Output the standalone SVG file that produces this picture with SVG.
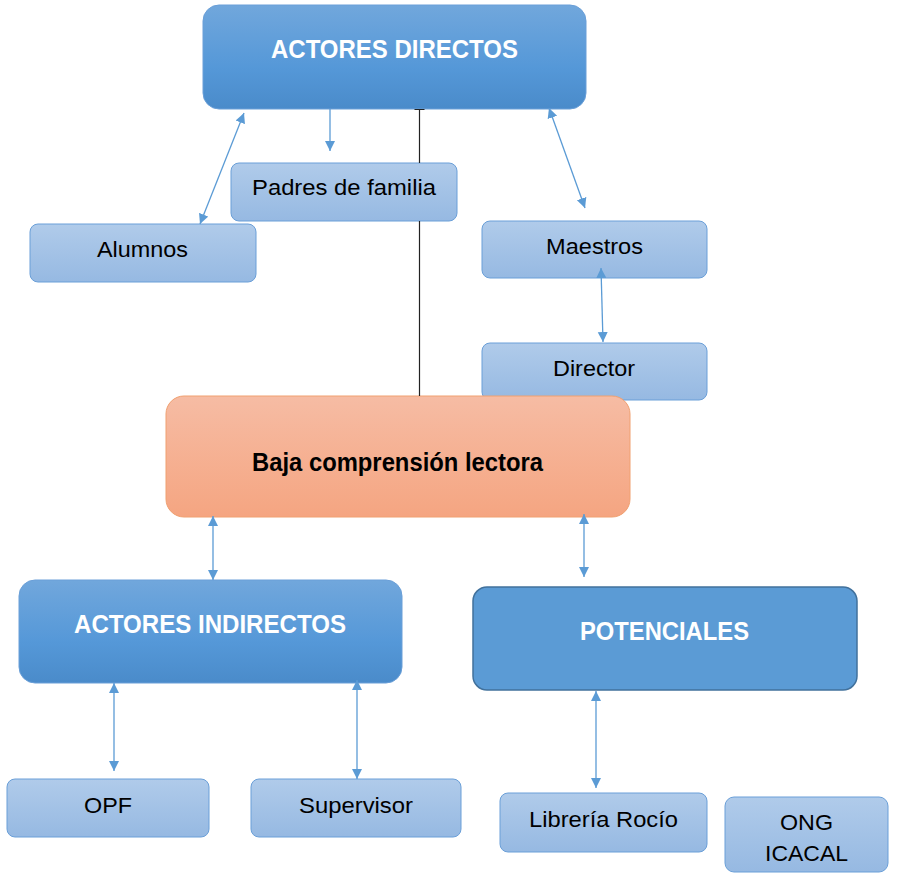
<svg xmlns="http://www.w3.org/2000/svg" width="897" height="874" viewBox="0 0 897 874">
<style>
  .t { font-family: "Liberation Sans", Arial, sans-serif; text-anchor: middle; }
  .reg { font-size: 22px; fill: #000; }
  .bold { font-size: 25px; font-weight: bold; }
  .wt { fill: #fff; }
  .light { fill: url(#gLight); stroke: #6a9fd8; stroke-width: 1; }
  .dark { fill: url(#gDark); stroke: #6a9fd8; stroke-width: 1; }
  .conn { stroke: #5b9bd5; stroke-width: 1.3; fill: none; }
</style>
<defs>
  <linearGradient id="gLight" x1="0" y1="0" x2="0" y2="1">
    <stop offset="0" stop-color="#b0cbea"/>
    <stop offset="1" stop-color="#96b9e2"/>
  </linearGradient>
  <linearGradient id="gDark" x1="0" y1="0" x2="0" y2="1">
    <stop offset="0" stop-color="#71a7dc"/>
    <stop offset="0.6" stop-color="#5598d8"/>
    <stop offset="1" stop-color="#4a8bca"/>
  </linearGradient>
  <linearGradient id="gOrange" x1="0" y1="0" x2="0" y2="1">
    <stop offset="0" stop-color="#f6bca4"/>
    <stop offset="1" stop-color="#f5a581"/>
  </linearGradient>
  <marker id="ah" viewBox="0 0 10 10" refX="10" refY="5" markerWidth="10" markerHeight="11" markerUnits="userSpaceOnUse" orient="auto-start-reverse">
    <path d="M0,0 L10,5 L0,10 z" fill="#5b9bd5"/>
  </marker>
</defs>

<g id="actores-directos">
  <rect class="dark" x="203" y="5" width="383" height="104" rx="16"/>
  <text class="t bold wt" x="394.5" y="58" textLength="247" lengthAdjust="spacingAndGlyphs">ACTORES DIRECTOS</text>
</g>
<g id="padres">
  <rect class="light" x="231" y="163" width="226" height="58" rx="8"/>
  <text class="t reg" x="344" y="195" textLength="184" lengthAdjust="spacingAndGlyphs">Padres de familia</text>
</g>
<g id="alumnos">
  <rect class="light" x="30" y="224" width="226" height="58" rx="8"/>
  <text class="t reg" x="142.5" y="257" textLength="91" lengthAdjust="spacingAndGlyphs">Alumnos</text>
</g>
<g id="maestros">
  <rect class="light" x="482" y="221" width="225" height="57" rx="8"/>
  <text class="t reg" x="594.5" y="254" textLength="97" lengthAdjust="spacingAndGlyphs">Maestros</text>
</g>
<g id="director">
  <rect class="light" x="482" y="343" width="225" height="57" rx="8"/>
  <text class="t reg" x="594" y="376" textLength="82" lengthAdjust="spacingAndGlyphs">Director</text>
</g>
<g id="baja">
  <rect x="166" y="396" width="464" height="121" rx="18" fill="url(#gOrange)" stroke="#f0a070" stroke-width="1"/>
  <text class="t bold" x="397.5" y="471" fill="#000" textLength="291" lengthAdjust="spacingAndGlyphs">Baja comprensión lectora</text>
</g>
<g id="actores-indirectos">
  <rect class="dark" x="19" y="580" width="383" height="103" rx="16"/>
  <text class="t bold wt" x="210" y="633" textLength="272" lengthAdjust="spacingAndGlyphs">ACTORES INDIRECTOS</text>
</g>
<g id="potenciales">
  <rect x="473" y="587" width="384" height="103" rx="14" fill="#5b9bd5" stroke="#41719c" stroke-width="1.5"/>
  <text class="t bold wt" x="664.5" y="640" textLength="169" lengthAdjust="spacingAndGlyphs">POTENCIALES</text>
</g>
<g id="opf">
  <rect class="light" x="7" y="779" width="202" height="58" rx="8"/>
  <text class="t reg" x="108" y="813" textLength="48" lengthAdjust="spacingAndGlyphs">OPF</text>
</g>
<g id="supervisor">
  <rect class="light" x="251" y="779" width="210" height="58" rx="8"/>
  <text class="t reg" x="356" y="813" textLength="114" lengthAdjust="spacingAndGlyphs">Supervisor</text>
</g>
<g id="libreria">
  <rect class="light" x="500" y="793" width="207" height="59" rx="8"/>
  <text class="t reg" x="603.5" y="827" textLength="149" lengthAdjust="spacingAndGlyphs">Librería Rocío</text>
</g>
<g id="ong">
  <rect class="light" x="725" y="797" width="163" height="75" rx="9"/>
  <text class="t reg" x="806.5" y="830" textLength="53" lengthAdjust="spacingAndGlyphs">ONG</text>
  <text class="t reg" x="806.5" y="861" textLength="83" lengthAdjust="spacingAndGlyphs">ICACAL</text>
</g>

<g id="connectors">
  <path d="M419.5,109 V163 M419.5,221 V396 M414.5,109.5 H424.5" stroke="#222" stroke-width="1.2" fill="none"/>
  <line class="conn" x1="330" y1="109" x2="330" y2="151" marker-end="url(#ah)"/>
  <line class="conn" x1="244" y1="113" x2="200" y2="224" marker-start="url(#ah)" marker-end="url(#ah)"/>
  <line class="conn" x1="549" y1="108" x2="585" y2="208" marker-start="url(#ah)" marker-end="url(#ah)"/>
  <line class="conn" x1="601" y1="268" x2="603" y2="342" marker-start="url(#ah)" marker-end="url(#ah)"/>
  <line class="conn" x1="213" y1="516" x2="213" y2="580" marker-start="url(#ah)" marker-end="url(#ah)"/>
  <line class="conn" x1="584" y1="514" x2="584" y2="577" marker-start="url(#ah)" marker-end="url(#ah)"/>
  <line class="conn" x1="114" y1="683" x2="114" y2="771" marker-start="url(#ah)" marker-end="url(#ah)"/>
  <line class="conn" x1="357" y1="680" x2="357" y2="779" marker-start="url(#ah)" marker-end="url(#ah)"/>
  <line class="conn" x1="596" y1="691" x2="596" y2="788" marker-start="url(#ah)" marker-end="url(#ah)"/>
</g>
</svg>
